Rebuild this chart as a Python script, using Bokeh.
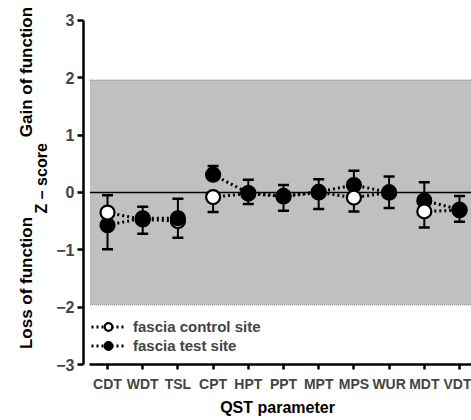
import math
from bokeh.plotting import figure
from bokeh.layouts import row, column
from bokeh.models import (FixedTicker, BoxAnnotation, Legend, LegendItem,
                          ColumnDataSource, Range1d)
from bokeh.core.properties import value
from bokeh.embed import file_html
from bokeh.resources import INLINE

# ---------------- data ----------------
params = ["CDT", "WDT", "TSL", "CPT", "HPT", "PPT", "MPT", "MPS", "WUR", "MDT", "VDT"]
groups = ["thermal", "thermal", "thermal", "pain", "pain", "pain", "pain", "pain", "pain",
          "mech", "mech"]

control_mean = [-0.35, -0.47, -0.50, -0.08, -0.02, -0.07, 0.00, -0.09, 0.00, -0.33, -0.31]
control_err = [0.30, 0.25, 0.29, 0.26, 0.18, 0.25, 0.29, 0.24, 0.27, 0.28, 0.20]
control_dir = [1, -1, -1, -1, -1, -1, -1, -1, -1, -1, -1]

test_mean = [-0.57, -0.45, -0.45, 0.31, -0.01, -0.06, 0.01, 0.13, 0.00, -0.14, -0.30]
test_err = [0.42, 0.20, 0.34, 0.15, 0.23, 0.19, 0.22, 0.25, 0.28, 0.32, 0.24]
test_dir = [-1, 1, 1, 1, 1, 1, 1, 1, 1, 1, 1]

# control marker drawn in front of the test marker at these parameters
control_front = [1, 0, 0, 1, 0, 0, 0, 1, 0, 1, 0]

y_ticks = [-3, -2, -1, 0, 1, 2, 3]
band_limit = 1.96

side_labels = ["Gain of function", "Loss of function"]
side_label_y = [2.0, -1.97]
y_title = "Z \u2013 score"
x_title = "QST parameter"

FONT = "Liberation Sans"

# ---------------- layout constants ----------------
TOP_H = 394          # height of the plotting row
LEFT_W = 53          # strip holding the vertical titles
MAIN_W = 471 - LEFT_W
BOTTOM_H = 420 - TOP_H
PX_PER_UNIT = 57.5

x_start, x_end = -0.682, 10.341
y_top = 3 + 20 / PX_PER_UNIT
y_range = Range1d(-3, y_top)

p = figure(width=MAIN_W, height=TOP_H, x_range=(x_start, x_end), y_range=y_range,
           output_backend="svg", toolbar_location=None,
           min_border_left=30, min_border_right=0, min_border_top=0,
           min_border_bottom=29)
p.outline_line_color = None
p.grid.visible = False
p.background_fill_color = "white"

# normal-range band
p.add_layout(BoxAnnotation(left=-0.5, bottom=-band_limit, top=band_limit,
                           fill_color="#c0c0c0", fill_alpha=1.0, line_color=None,
                           level="underlay"))
for yb in (band_limit, -band_limit):
    p.line([-0.5, x_end], [yb, yb], line_color="#7a7a7a", line_width=1, line_dash="1 1")

# zero line
p.line([-0.5, x_end], [0, 0], line_color="black", line_width=1.6)

xs = list(range(len(params)))


def series(mean, err, direction):
    rends = []
    for g in dict.fromkeys(groups):
        idx = [i for i in xs if groups[i] == g]
        r = p.line([xs[i] for i in idx], [mean[i] for i in idx],
                   line_color="black", line_width=3, line_dash="2 3")
        rends.append(r)
    ends = [m + d * e for m, e, d in zip(mean, err, direction)]
    p.segment(x0=xs, y0=mean, x1=xs, y1=ends, line_color="black", line_width=2)
    p.scatter(xs, ends, marker="dash", size=11, line_color="black", line_width=2.5)
    return rends


line_c = series(control_mean, control_err, control_dir)
line_t = series(test_mean, test_err, test_dir)


def markers(mean, fill, mask):
    src = ColumnDataSource(dict(x=[x for x, m in zip(xs, mask) if m],
                                y=[v for v, m in zip(mean, mask) if m]))
    return p.scatter("x", "y", source=src, size=14, fill_color=fill,
                     line_color="black", line_width=2.2)


sc_back = markers(control_mean, "white", [1 - f for f in control_front])
st = markers(test_mean, "black", [1] * len(xs))
sc_front = markers(control_mean, "white", control_front)

legend = Legend(items=[
    LegendItem(label="fascia control site", renderers=[line_c[0], sc_back]),
    LegendItem(label="fascia test site", renderers=[line_t[0], st]),
], location=(8, 9))
legend.label_text_font = FONT
legend.label_text_font_style = "bold"
legend.label_text_font_size = "15px"
legend.glyph_width = 34
legend.glyph_height = 19
legend.label_height = 19
legend.label_standoff = 8
legend.spacing = 0
legend.padding = 0
legend.margin = 0
legend.background_fill_alpha = 0
legend.border_line_alpha = 0
p.add_layout(legend)

# axes
xa = p.xaxis[0]
xa.ticker = FixedTicker(ticks=xs)
xa.major_label_overrides = {i: s for i, s in enumerate(params)}
xa.bounds = (-0.5, x_end)
xa.axis_line_width = 2.5
xa.major_tick_line_width = 2.5
xa.major_tick_out = 5
xa.major_tick_in = 0
xa.minor_tick_line_color = None
xa.major_label_text_font = FONT
xa.major_label_text_font_style = "bold"
xa.major_label_text_font_size = "14px"
xa.major_label_standoff = 6

ya = p.yaxis[0]
ya.ticker = FixedTicker(ticks=y_ticks)
ya.bounds = (-3, 3)
ya.axis_line_width = 2.5
ya.major_tick_line_width = 2.5
ya.major_tick_out = 6
ya.major_tick_in = 0
ya.minor_tick_line_color = None
ya.major_label_text_font = FONT
ya.major_label_text_font_style = "bold"
ya.major_label_text_font_size = "16px"
ya.major_label_standoff = 3


def strip(width, height, xr, yr):
    f = figure(width=width, height=height, x_range=xr, y_range=yr,
               output_backend="svg", toolbar_location=None,
               min_border_left=0, min_border_right=0, min_border_top=0,
               min_border_bottom=0)
    f.axis.visible = False
    f.grid.visible = False
    f.outline_line_color = None
    return f


# left strip with the vertical axis titles (same vertical scale as the plot)
lp = strip(LEFT_W, TOP_H, Range1d(0, LEFT_W),
           Range1d(y_top - TOP_H / PX_PER_UNIT, y_top))
lp.text(x=[25.5] * len(side_labels), y=side_label_y, text=side_labels,
        angle=math.pi / 2, text_align="center", text_baseline="middle",
        text_font=value(FONT), text_font_style="bold", text_font_size="17px",
        text_color="black")
lp.text(x=[40.5], y=[0], text=[y_title],
        angle=math.pi / 2, text_align="center", text_baseline="middle",
        text_font=value(FONT), text_font_style="bold", text_font_size="16px",
        text_color="black")

# bottom strip with the x axis title
bp = strip(471, BOTTOM_H, Range1d(0, 471), Range1d(0, BOTTOM_H))
bp.text(x=[277], y=[BOTTOM_H / 2], text=[x_title], text_align="center",
        text_baseline="middle",
        text_font=value(FONT), text_font_style="bold", text_font_size="16px",
        text_color="black")

layout = column(row(lp, p, spacing=0), bp, spacing=0)
open("out.html", "w").write(file_html(layout, INLINE))
